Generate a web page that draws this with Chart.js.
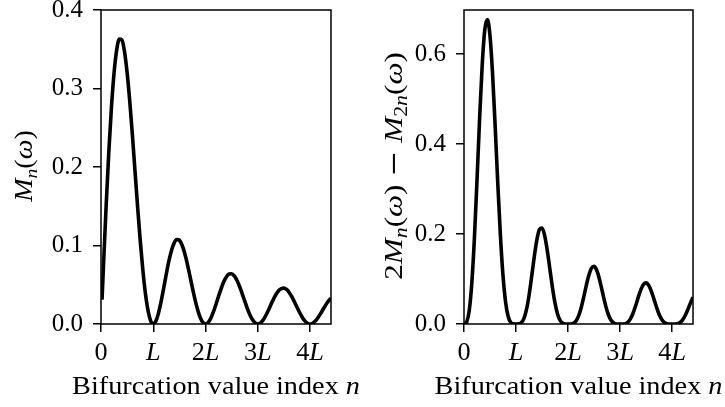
<!DOCTYPE html>
<html>
<head>
<meta charset="utf-8">
<script src="https://cdn.jsdelivr.net/npm/chart.js@4.4.0/dist/chart.umd.min.js"></script>
<style>
  html, body { margin: 0; padding: 0; background: #fff; }
  #wrap { position: relative; width: 725px; height: 407px; }
  .panel { position: absolute; top: 0; height: 407px; }
  #left { left: 0; width: 362px; }
  #right { left: 362px; width: 363px; }
</style>
</head>
<body>
<div id="wrap">
  <div class="panel" id="left"><canvas id="chartM"></canvas></div>
  <div class="panel" id="right"><canvas id="chartD"></canvas></div>
</div>
<script>
// index n, in units of L
const nValues = [0.02,
  0.05, 0.10, 0.15, 0.20, 0.25, 0.30, 0.35, 0.40, 0.45, 0.50, 0.55, 0.60, 0.65, 0.70, 0.75, 0.80, 0.85, 0.90, 0.95, 1.00,
  1.05, 1.10, 1.15, 1.20, 1.25, 1.30, 1.35, 1.40, 1.45, 1.50, 1.55, 1.60, 1.65, 1.70, 1.75, 1.80, 1.85, 1.90, 1.95, 2.00,
  2.05, 2.10, 2.15, 2.20, 2.25, 2.30, 2.35, 2.40, 2.45, 2.50, 2.55, 2.60, 2.65, 2.70, 2.75, 2.80, 2.85, 2.90, 2.95, 3.00,
  3.05, 3.10, 3.15, 3.20, 3.25, 3.30, 3.35, 3.40, 3.45, 3.50, 3.55, 3.60, 3.65, 3.70, 3.75, 3.80, 3.85, 3.90, 3.95, 4.00,
  4.05, 4.10, 4.15, 4.20, 4.25, 4.30, 4.35, 4.40];

// M_n(omega)
const mnValues = [0.031,
  0.0783, 0.1528, 0.2199, 0.2764, 0.32, 0.3491, 0.3629, 0.3618, 0.3469, 0.32, 0.2838, 0.2412, 0.1954, 0.1496, 0.1067, 0.0691, 0.0388, 0.017, 0.0041, 0,
  0.0037, 0.0139, 0.0287, 0.0461, 0.064, 0.0806, 0.0941, 0.1034, 0.1076, 0.1067, 0.1007, 0.0905, 0.077, 0.0616, 0.0457, 0.0307, 0.0178, 0.008, 0.002, 0,
  0.0019, 0.0073, 0.0153, 0.0251, 0.0356, 0.0455, 0.0541, 0.0603, 0.0637, 0.064, 0.0612, 0.0557, 0.0479, 0.0388, 0.0291, 0.0197, 0.0116, 0.0053, 0.0013, 0,
  0.0013, 0.0049, 0.0105, 0.0173, 0.0246, 0.0317, 0.0379, 0.0426, 0.0452, 0.0457, 0.044, 0.0402, 0.0348, 0.0283, 0.0213, 0.0146, 0.0086, 0.0039, 0.001, 0,
  0.001, 0.0037, 0.008, 0.0132, 0.0188, 0.0244, 0.0292, 0.0329];

// 2 M_n(omega) - M_2n(omega)
const diffValues = [0.0003,
  0.0038, 0.0292, 0.0906, 0.191, 0.32, 0.4569, 0.5762, 0.6545, 0.6767, 0.64, 0.5537, 0.4363, 0.3103, 0.1958, 0.1067, 0.0478, 0.016, 0.0032, 0.0002, 0,
  0.0002, 0.0027, 0.0118, 0.0318, 0.064, 0.1054, 0.1494, 0.187, 0.21, 0.2133, 0.1965, 0.1636, 0.1222, 0.0806, 0.0457, 0.0212, 0.0074, 0.0015, 0.0001, 0,
  0.0001, 0.0014, 0.0063, 0.0174, 0.0356, 0.0596, 0.0858, 0.1091, 0.1243, 0.128, 0.1194, 0.1007, 0.0761, 0.0508, 0.0291, 0.0136, 0.0048, 0.001, 0.0001, 0,
  0.0001, 0.0009, 0.0043, 0.0119, 0.0246, 0.0415, 0.0602, 0.077, 0.0883, 0.0914, 0.0858, 0.0727, 0.0553, 0.0371, 0.0213, 0.0101, 0.0035, 0.0008, 0.0001, 0,
  0.0001, 0.0007, 0.0033, 0.0091, 0.0188, 0.0319, 0.0464, 0.0595];

const xTickValues = [0, 1, 2, 3, 4];
const xTickLabels = ['0', 'L', '2L', '3L', '4L'];
const mnTicks = [0, 0.1, 0.2, 0.3, 0.4];
const diffTicks = [0, 0.2, 0.4, 0.6];

const SERIF = '"Liberation Serif", "Times New Roman", serif';

// texte mixte droit / italique / indice
function drawRuns(ctx, runs, size, cx, baseline, stretch) {
  let total = 0;
  const parts = runs.map(r => {
    const s = r.sub ? size * 0.7 : size;
    const font = (r.it ? 'italic ' : '') + s + 'px ' + (r.family || SERIF);
    ctx.font = font;
    const w = ctx.measureText(r.t).width;
    total += w;
    return { t: r.t, font: font, w: w, dy: r.sub ? size * 0.2 : 0 };
  });
  ctx.save();
  ctx.translate(cx, baseline);
  ctx.scale(stretch, 1);
  ctx.textAlign = 'left';
  ctx.textBaseline = 'alphabetic';
  ctx.fillStyle = '#000';
  let x = -total / 2;
  parts.forEach(p => {
    ctx.font = p.font;
    ctx.fillText(p.t, x, p.dy);
    x += p.w;
  });
  ctx.restore();
}

function tickRuns(label) {
  if (label.endsWith('L')) {
    const runs = [];
    if (label.length > 1) runs.push({ t: label.slice(0, -1) });
    runs.push({ t: 'L', it: true });
    return runs;
  }
  return [{ t: label }];
}

const xTitleRuns = [{ t: 'Bifurcation value index ' }, { t: 'n', it: true }];

const frame = {
  id: 'frame',
  afterDraw(chart, args, opts) {
    const { ctx, chartArea: a, scales } = chart;
    ctx.save();
    ctx.strokeStyle = '#000';
    ctx.lineWidth = 1.5;
    ctx.strokeRect(a.left, a.top, a.right - a.left, a.bottom - a.top);

    xTickValues.forEach((v, i) => {
      drawRuns(ctx, tickRuns(xTickLabels[i]), 25, scales.x.getPixelForValue(v), 360, 1.05);
    });
    drawRuns(ctx, xTitleRuns, 25, (a.left + a.right) / 2, 394, 1.13);

    ctx.translate(opts.titleX, (a.top + a.bottom) / 2 - 1);
    ctx.rotate(-Math.PI / 2);
    drawRuns(ctx, opts.yTitle, opts.size, 0, 0, opts.stretch);
    ctx.restore();
  }
};

function makeChart(id, values, yMax, yTicks, yWidth, padRight, yTitle, titleX, size, stretch) {
  const axisGrid = { drawOnChartArea: false, drawTicks: true, tickLength: 8, color: '#000', lineWidth: 1.5 };
  return new Chart(document.getElementById(id), {
    type: 'line',
    data: {
      datasets: [{
        data: nValues.map((n, i) => ({ x: n, y: values[i] })),
        borderColor: '#000',
        borderWidth: 3.6,
        pointRadius: 0,
        fill: false,
        cubicInterpolationMode: 'monotone'
      }]
    },
    options: {
      responsive: true,
      maintainAspectRatio: false,
      animation: false,
      layout: { padding: { left: 0, top: 10, right: padRight, bottom: 0 } },
      plugins: {
        legend: { display: false },
        tooltip: { enabled: false },
        frame: { yTitle: yTitle, titleX: titleX, size: size, stretch: stretch }
      },
      scales: {
        x: {
          type: 'linear',
          min: 0,
          max: 4.4,
          afterBuildTicks: s => { s.ticks = xTickValues.map(v => ({ value: v })); },
          ticks: { display: false },
          grid: axisGrid,
          border: { display: false },
          afterFit: s => { s.height = 83; s.paddingLeft = 0; s.paddingRight = 0; }
        },
        y: {
          min: 0,
          max: yMax,
          afterBuildTicks: s => { s.ticks = yTicks.map(v => ({ value: v })); },
          ticks: {
            callback: v => v.toFixed(1),
            font: { family: SERIF, size: 25 },
            color: '#000',
            padding: 10
          },
          grid: axisGrid,
          border: { display: false },
          afterFit: s => { s.width = yWidth; s.paddingTop = 0; s.paddingBottom = 0; }
        }
      }
    },
    plugins: [frame]
  });
}

makeChart('chartM', mnValues, 0.4, mnTicks, 101, 31,
  [{ t: 'M', it: true }, { t: 'n', it: true, sub: true }, { t: '(' }, { t: 'ω', it: true }, { t: ')' }], 32, 25, 1.12);

makeChart('chartD', diffValues, 0.698, diffTicks, 102, 32,
  [{ t: '2' }, { t: 'M', it: true }, { t: 'n', it: true, sub: true }, { t: '(' }, { t: 'ω', it: true }, { t: ') ' },
   { t: '−', family: '"DejaVu Serif", serif' }, { t: ' ' },
   { t: 'M', it: true }, { t: '2', sub: true }, { t: 'n', it: true, sub: true }, { t: '(' }, { t: 'ω', it: true }, { t: ')' }], 40, 26, 1.2);
</script>
</body>
</html>
